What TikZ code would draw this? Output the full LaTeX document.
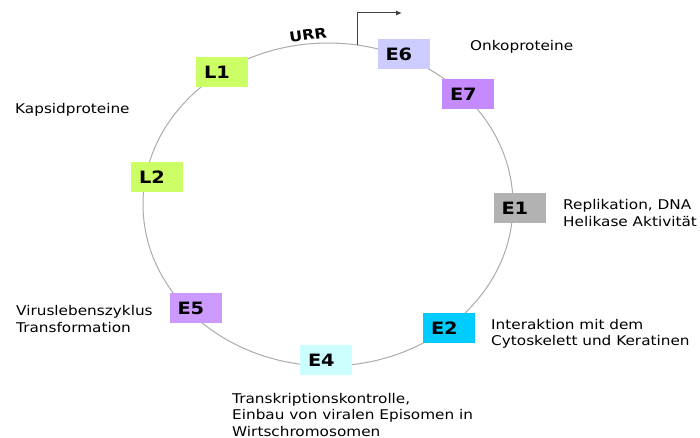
\documentclass[tikz,border=0pt]{standalone}
\usepackage{fontspec}
\setmainfont{DejaVu Sans}[FakeStretch=1.14]
\usetikzlibrary{arrows.meta}
\definecolor{capsid}{HTML}{CCFF66}
\definecolor{onkoA}{HTML}{CCCCFF}
\definecolor{onkoB}{HTML}{C68AFF}
\definecolor{virus}{HTML}{CC99FF}
\definecolor{repli}{HTML}{B2B2B2}
\definecolor{cyto}{HTML}{00CCFF}
\definecolor{transk}{HTML}{CCFFFF}
\tikzset{
  gene/.style={minimum height=30pt, text width=36pt, inner xsep=8pt, inner ysep=0pt,
    align=left, font=\fontsize{17}{20}\selectfont\bfseries},
  note/.style={anchor=west, align=left, inner sep=0pt, font=\fontsize{13.4}{16.2}\selectfont}
}
\begin{document}
\begin{tikzpicture}[x=1pt,y=-1pt]
    \useasboundingbox (0,0) rectangle (700,438);
    \draw[black!33, line width=1pt] (328,204.5) ellipse [x radius=185, y radius=161.5];
    % promoter arrow
    \coordinate (start) at (357,45); \coordinate (bend) at (357,13); \coordinate (tip) at (402,13);
    \draw[black!75, line width=1pt, -{Latex[length=6pt,width=5pt]}] (start) -- (bend) -- (tip);
    \node[rotate=8, inner sep=0pt, font=\fontsize{14}{16}\selectfont\bfseries] (urr) at (308,35) {URR};
    \foreach \g/\x/\y/\c in {L1/222/72/capsid, L2/157/177/capsid, E6/403.5/54/onkoA,
        E7/468/94/onkoB, E1/519.5/208/repli, E2/449/328/cyto, E4/326/360/transk, E5/195.5/308/virus} {
        \node[gene, fill=\c] (\g) at (\x,\y) {\g};
    }
    \node[note] (onko) at (470,47) {Onkoproteine};
    \node[note] (kapsid) at (15,110) {Kapsidproteine};
    \node[note] (repl) at (563,213) {Replikation, DNA\\Helikase Aktivität};
    \node[note] (inter) at (491,333.5) {Interaktion mit dem\\Cytoskelett und Keratinen};
    \node[note] (trans) at (232,415) {Transkriptionskontrolle,\\Einbau von viralen Episomen in\\Wirtschromosomen};
    \node[note] (leben) at (16,319) {Viruslebenszyklus\\Transformation};
\end{tikzpicture}
\end{document}
